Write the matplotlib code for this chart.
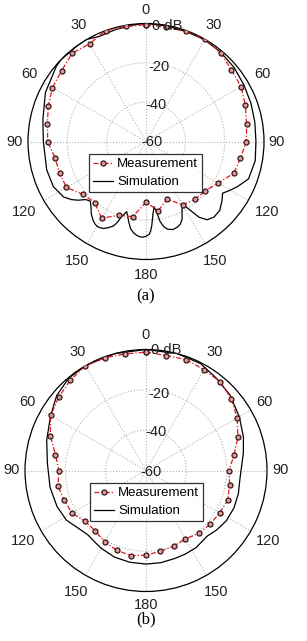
import numpy as np
import matplotlib
matplotlib.use("Agg")
import matplotlib.pyplot as plt
from matplotlib.lines import Line2D

plt.rcParams['font.family'] = ['Liberation Sans', 'DejaVu Sans']

# ---------------- data ----------------
# angles in degrees, clockwise from the top (0); 90 = right side, 270 = left side
meas_angles = [0, 10, 20, 30, 40, 50, 60, 70, 80, 90, 100, 110, 120, 130, 140, 150, 160, 170,
               180, 190, 200, 210, 220, 230, 240, 250, 260, 270, 280, 290, 300, 310, 320, 330, 340, 350]

meas_a = [-0.6, -1.0, -0.4, 0.0, -1.0, -3.3, -4.2, -6.2, -8.1, -8.9, -11.3, -12.5,
          -17.8, -20.7, -21.6, -22.8, -28.8, -24.2, -29.2, -21.2, -20.1, -15.0,
          -19.4, -18.2, -13.3, -13.2, -13.0, -10.0, -9.1, -7.1, -5.1, -4.0,
          -1.5, -2.6, 0.0, -0.6]

sim_a_angles = [0, 10, 20, 30, 40, 50, 60, 70, 80, 90, 100, 110, 116, 120, 124, 128, 133,
                138, 142, 145, 147.5, 149.5, 152, 155, 157.5, 160, 163, 166, 168, 170,
                171.5, 173, 174.5, 176, 177, 178, 180, 182, 184, 186, 188, 190, 192,
                193.5, 195.4, 198, 199.5, 201, 203.6, 206, 208, 210, 212, 214, 217, 220,
                223, 226, 229, 232, 236, 244, 254, 270, 282, 296, 310, 314, 325, 330,
                336, 345, 355, 360]
sim_a = [0.0, -0.3, -0.5, -0.3, -0.8, -1.5, -2.5, -3.2, -3.8, -4.1, -3.6, -4.5, -8.0,
         -10.5, -13.0, -11.0, -8.7, -8.3, -9.5, -13.0, -19.0, -22.8, -21.0, -16.5, -14.5,
         -13.6, -13.2, -14.0, -15.5, -18.6, -23.9, -26.6, -23.0, -17.4, -14.5, -12.8,
         -11.8, -11.3, -11.5, -12.2, -13.3, -15.0, -18.0, -20.5, -23.0, -19.8, -16.5,
         -14.0, -12.2, -10.8, -10.3, -10.2, -10.8, -11.8, -13.8, -16.5, -18.5, -17.5,
         -14.5, -12.0, -9.5, -7.6, -7.5, -7.8, -6.4, -3.1, -0.5, 0.0, 0.0, 0.0, -1.5,
         -1.0, -0.3, 0.0]

meas_b = [-1.3, -2.1, -1.5, -2.4, -2.6, -4.7, -7.8, -11.5, -15.7, -18.8, -17.9, -16.9,
          -17.9, -18.5, -19.3, -20.9, -20.1, -19.3, -18.0, -17.1, -17.9, -19.1, -20.9,
          -20.7, -17.7, -16.8, -15.7, -16.8, -14.4, -9.5, -5.4, -3.5, -1.6, 0.0, -0.5, -1.3]

sim_b_angles = [0, 15, 27, 37, 48, 60, 71, 80, 94, 104, 113, 122, 130, 137, 147, 155, 162,
                171, 180, 190, 200, 210, 215, 222, 230, 238, 248, 260, 274, 287, 300, 310,
                320, 330, 345, 360]
sim_b = [0.0, 0.0, -0.5, -2.4, -4.0, -6.6, -8.9, -11.0, -13.2, -12.8, -12.6, -13.0, -14.2,
         -15.5, -14.4, -14.2, -14.1, -13.7, -13.6, -13.8, -14.3, -15.5, -16.3, -17.0,
         -15.8, -13.5, -12.4, -11.7, -11.0, -8.5, -5.4, -2.2, -0.3, 0.0, 0.0, 0.0]

angle_tick_pos = [0, 30, 60, 90, 120, 150, 180, 210, 240, 270, 300, 330]
angle_tick_lbl = ['0', '30', '60', '90', '120', '150', '180', '150', '120', '90', '60', '30']
ring_values = [-40, -20]
ring_labels = ['-60', '-40', '-20', '0 dB']

RED = '#e3161e'
DASHDOT = (0, (4, 1.6, 1, 1.6))
W, H = 307, 641
fig = plt.figure(figsize=(W / 100, H / 100), dpi=100)


def closed(ang, val):
    a = list(ang)
    v = list(val)
    if a[-1] != 360:
        a = a + [a[0] + 360]
        v = v + [v[0]]
    return np.deg2rad(a), np.array(v)


def panel(cx, cy, R, meas, sim_ang, sim_val, leg_box, cap, cap_y, lbl_dy, lbl_fac):
    ax = fig.add_axes([(cx - R) / W, (H - (cy + R)) / H, 2 * R / W, 2 * R / H],
                      projection='polar')
    ax.set_theta_zero_location('N')
    ax.set_theta_direction(-1)
    ax.set_ylim(-60, 0)
    ax.set_thetagrids(angle_tick_pos, [''] * len(angle_tick_pos))
    ax.set_rgrids(ring_values, [''] * len(ring_values))
    ax.grid(True, color='#b4b4b4', linestyle=':', linewidth=0.8)
    ax.spines['polar'].set_color('black')
    ax.spines['polar'].set_linewidth(0.9)
    ax.set_facecolor('white')

    # angle labels
    for pos, lbl, f in zip(angle_tick_pos, angle_tick_lbl, lbl_fac):
        ax.text(np.deg2rad(pos), -60 + 60 * f, lbl, ha='center', va='center',
                fontsize=10.5, color='#222222')

    # ring labels
    for lbl, (dx, dy) in zip(ring_labels, lbl_dy):
        ax.text(0.5 + dx / (2 * R), 0.5 + dy / (2 * R), lbl, transform=ax.transAxes,
                ha='left', va='center', fontsize=10.5, color='#222222', zorder=5)

    th, v = closed(sim_ang, sim_val)
    ax.plot(th, v, color='black', lw=0.9, zorder=3)
    th, v = closed(meas_angles, meas)
    ax.plot(th, v, color=RED, lw=0.9, linestyle=DASHDOT, marker='o',
            markersize=3.6, markerfacecolor='#d89a9a', markeredgecolor='#3a1414',
            markeredgewidth=0.9, zorder=4)

    handles = [Line2D([], [], color=RED, lw=0.9, linestyle=DASHDOT,
                      marker='o', markersize=3.6, markerfacecolor='#d89a9a',
                      markeredgecolor='#3a1414', markeredgewidth=0.9),
               Line2D([], [], color='black', lw=0.9)]
    x0, y0 = leg_box
    leg = fig.legend(handles, ['Measurement', 'Simulation'], loc='upper left',
                     bbox_to_anchor=(x0 / W, 1 - y0 / H), fontsize=9.5,
                     frameon=True, fancybox=False, borderpad=0.32, labelspacing=0.42,
                     handlelength=1.5, handletextpad=0.3, borderaxespad=0.0,
                     markerscale=1.0, numpoints=1)
    leg.get_frame().set_edgecolor('black')
    leg.get_frame().set_linewidth(0.9)

    fig.text(cx / W, 1 - cap_y / H, cap, ha='center', va='center', fontsize=12,
             family=['Liberation Serif', 'DejaVu Serif'])


fac = [1.115, 1.14, 1.14, 1.11, 1.19, 1.17, 1.13, 1.17, 1.19, 1.11, 1.14, 1.14]
panel(146, 141.5, 118, meas_a, sim_a_angles, sim_a, (89, 154), '(a)', 296,
      [(-5, -0.5), (-1, 36.5), (2, 74.5), (6, 115.5)], fac)
fac_b = [1.12, 1.13, 1.13, 1.11, 1.17, 1.16, 1.11, 1.16, 1.17, 1.11, 1.13, 1.13]
panel(146, 470.5, 121, meas_b, sim_b_angles, sim_b, (90, 483), '(b)', 619,
      [(-6, -1), (-1, 39), (2, 77), (5, 120.5)], fac_b)

fig.savefig('out.png', dpi=100, facecolor='white')
